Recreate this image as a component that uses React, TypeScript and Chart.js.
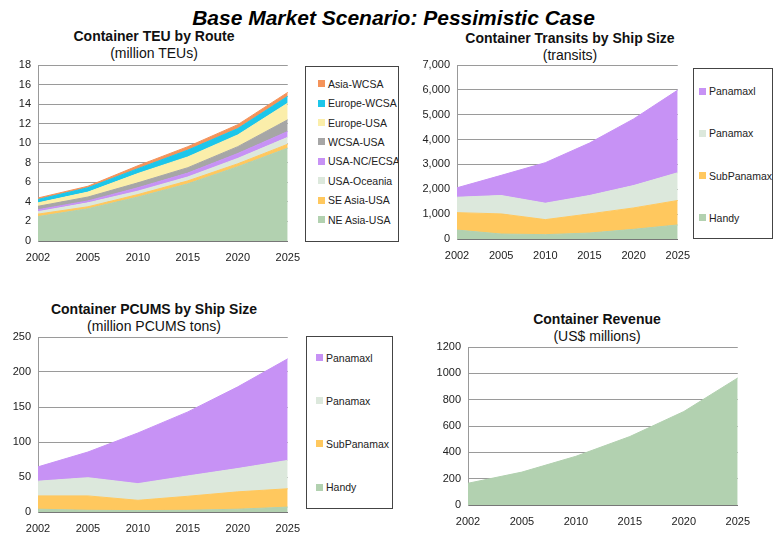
import React, { useEffect, useRef } from "react";
import { Chart, registerables } from "chart.js";
Chart.register(...registerables);

const FONT = "'Liberation Sans', Arial, sans-serif";

const YEARS = ["2002", "2005", "2010", "2015", "2020", "2025"];

// Container TEU by Route (million TEUs) - stacked layers, bottom to top
const teuNEAsiaUSA = [2.5, 3.3, 4.5, 5.85, 7.6, 9.5];
const teuSEAsiaUSA = [0.25, 0.2, 0.25, 0.3, 0.3, 0.4];
const teuUSAOceania = [0.25, 0.4, 0.35, 0.4, 0.55, 0.7];
const teuUSANCECSA = [0.2, 0.2, 0.35, 0.4, 0.5, 0.6];
const teuWCSAUSA = [0.35, 0.4, 0.5, 0.55, 0.7, 1.2];
const teuEuropeUSA = [0.35, 0.5, 0.95, 1.1, 1.2, 1.7];
const teuEuropeWCSA = [0.35, 0.45, 0.5, 0.7, 0.65, 0.7];
const teuAsiaWCSA = [0.15, 0.15, 0.3, 0.35, 0.4, 0.4];

// Container Transits by Ship Size (transits)
const trHandy = [360, 200, 175, 240, 390, 565];
const trSubPanamax = [700, 810, 605, 770, 860, 985];
const trPanamax = [620, 740, 660, 740, 900, 1115];
const trPanamaxl = [380, 810, 1630, 2110, 2680, 3325];

// Container PCUMS by Ship Size (million PCUMS tons)
const pcHandy = [4, 2.5, 2, 2.5, 4, 7];
const pcSubPanamax = [19, 20.5, 14.7, 20, 24.8, 26.2];
const pcPanamax = [21, 26, 23.8, 29, 33.3, 40.5];
const pcPanamaxl = [20.5, 36.7, 72.4, 91.5, 116.7, 145.2];

// Container Revenue (US$ millions)
const revenue = [165, 250, 370, 520, 710, 965];

const C_GREEN = "#b2d1b0";
const C_ORANGE = "#ffc85e";
const C_LIGHT = "#dce8dc";
const C_PURPLE = "#c792f5";
const C_GRAY = "#a6a6a6";
const C_YELLOW = "#fbeeaa";
const C_CYAN = "#1cc6ea";
const C_SALMON = "#f4935a";

type Series = { label: string; data: number[]; color: string };

const teuSeries: Series[] = [
  { label: "NE Asia-USA", data: teuNEAsiaUSA, color: C_GREEN },
  { label: "SE Asia-USA", data: teuSEAsiaUSA, color: C_ORANGE },
  { label: "USA-Oceania", data: teuUSAOceania, color: C_LIGHT },
  { label: "USA-NC/ECSA", data: teuUSANCECSA, color: C_PURPLE },
  { label: "WCSA-USA", data: teuWCSAUSA, color: C_GRAY },
  { label: "Europe-USA", data: teuEuropeUSA, color: C_YELLOW },
  { label: "Europe-WCSA", data: teuEuropeWCSA, color: C_CYAN },
  { label: "Asia-WCSA", data: teuAsiaWCSA, color: C_SALMON },
];

const transitSeries: Series[] = [
  { label: "Handy", data: trHandy, color: C_GREEN },
  { label: "SubPanamax", data: trSubPanamax, color: C_ORANGE },
  { label: "Panamax", data: trPanamax, color: C_LIGHT },
  { label: "Panamaxl", data: trPanamaxl, color: C_PURPLE },
];

const pcumsSeries: Series[] = [
  { label: "Handy", data: pcHandy, color: C_GREEN },
  { label: "SubPanamax", data: pcSubPanamax, color: C_ORANGE },
  { label: "Panamax", data: pcPanamax, color: C_LIGHT },
  { label: "Panamaxl", data: pcPanamaxl, color: C_PURPLE },
];

const revenueSeries: Series[] = [
  { label: "Revenue", data: revenue, color: C_GREEN },
];

type PanelProps = {
  left: number;
  top: number;
  width: number;
  height: number;
  padTop: number;
  padR: number;
  yWidth: number;
  xHeight: number;
  yMax: number;
  yStep: number;
  comma: boolean;
  series: Series[];
};

function Panel(p: PanelProps) {
  const ref = useRef<HTMLCanvasElement | null>(null);
  useEffect(() => {
    if (!ref.current) return;
    const chart = new Chart(ref.current, {
      type: "line",
      data: {
        labels: YEARS,
        datasets: p.series.map((s, i) => ({
          label: s.label,
          data: s.data,
          backgroundColor: s.color,
          borderColor: s.color,
          borderWidth: 1,
          pointRadius: 0,
          tension: 0,
          fill: i === 0 ? "origin" : "-1",
        })),
      },
      options: {
        responsive: false,
        animation: false,
        devicePixelRatio: 1,
        layout: { padding: { left: 0, right: p.padR, top: p.padTop, bottom: 0 } },
        plugins: {
          legend: { display: false },
          tooltip: { enabled: false },
          title: { display: false },
        },
        scales: {
          x: {
            type: "category",
            offset: false,
            grid: { display: false, drawTicks: false },
            border: { display: true, color: "#777", width: 1 },
            ticks: {
              color: "#222",
              font: { family: FONT, size: 11 },
              padding: 10,
              maxRotation: 0,
              autoSkip: false,
            },
            afterFit: (s: any) => {
              s.height = p.xHeight;
            },
          },
          y: {
            stacked: true,
            min: 0,
            max: p.yMax,
            grid: { color: "#9a9a9a", drawTicks: false, lineWidth: 1 },
            border: { display: true, color: "#999", width: 1 },
            ticks: {
              stepSize: p.yStep,
              color: "#222",
              font: { family: FONT, size: 11 },
              padding: 7,
              callback: (v: any) =>
                p.comma ? Number(v).toLocaleString("en-US") : String(v),
            },
            afterFit: (s: any) => {
              s.width = p.yWidth;
            },
          },
        },
      } as any,
    });
    return () => chart.destroy();
  }, []);
  return (
    <canvas
      ref={ref}
      width={p.width}
      height={p.height}
      style={{
        position: "absolute",
        left: p.left,
        top: p.top,
        width: p.width,
        height: p.height,
      }}
    />
  );
}

type TitleProps = { cx: number; cy: number; text: string; bold: boolean };

function TitleText(t: TitleProps) {
  return (
    <div
      style={{
        position: "absolute",
        left: t.cx - 160,
        top: t.cy - 8.5,
        width: 320,
        height: 17,
        lineHeight: "17px",
        textAlign: "center",
        fontFamily: FONT,
        fontSize: 14,
        fontWeight: t.bold ? "bold" : "normal",
        color: "#111",
        whiteSpace: "nowrap",
      }}
    >
      {t.text}
    </div>
  );
}

type LegendProps = {
  left: number;
  top: number;
  width: number;
  height: number;
  firstY: number;
  step: number;
  markerX: number;
  series: Series[];
};

function Legend(l: LegendProps) {
  const items = [...l.series].reverse();
  return (
    <div
      style={{
        position: "absolute",
        left: l.left,
        top: l.top,
        width: l.width,
        height: l.height,
        border: "1px solid #444",
        boxSizing: "border-box",
        overflow: "hidden",
        background: "#fff",
      }}
    >
      {items.map((s, i) => (
        <div
          key={s.label}
          style={{
            position: "absolute",
            left: l.markerX - l.left,
            top: l.firstY - l.top - 7 + i * l.step,
            height: 14,
            display: "flex",
            alignItems: "center",
            whiteSpace: "nowrap",
            fontFamily: FONT,
            fontSize: 10.5,
            color: "#222",
          }}
        >
          <span
            style={{
              display: "inline-block",
              width: 7,
              height: 7,
              background: s.color,
              marginRight: 3,
            }}
          />
          <span>{s.label}</span>
        </div>
      ))}
    </div>
  );
}

export default function App() {
  return (
    <div
      style={{
        position: "fixed",
        left: 0,
        top: 0,
        width: 776,
        height: 552,
        background: "#fff",
        overflow: "hidden",
      }}
    >
      <div
        style={{
          position: "absolute",
          left: 0,
          top: 7,
          width: 787,
          textAlign: "center",
          fontFamily: FONT,
          fontSize: 21,
          lineHeight: "21px",
          fontWeight: "bold",
          fontStyle: "italic",
          color: "#000",
          whiteSpace: "nowrap",
        }}
      >
        Base Market Scenario: Pessimistic Case
      </div>

      <TitleText cx={154} cy={36.5} text="Container TEU by Route" bold={true} />
      <TitleText cx={154} cy={53} text="(million TEUs)" bold={false} />
      <TitleText cx={570} cy={38.3} text="Container Transits by Ship Size" bold={true} />
      <TitleText cx={570} cy={55} text="(transits)" bold={false} />
      <TitleText cx={154} cy={309.3} text="Container PCUMS by Ship Size" bold={true} />
      <TitleText cx={154} cy={326} text="(million PCUMS tons)" bold={false} />
      <TitleText cx={597} cy={319.3} text="Container Revenue" bold={true} />
      <TitleText cx={597} cy={336} text="(US$ millions)" bold={false} />

      <Panel
        left={0}
        top={50}
        width={310}
        height={228}
        padTop={15}
        padR={20}
        yWidth={38}
        xHeight={37}
        yMax={18}
        yStep={2}
        comma={false}
        series={teuSeries}
      />
      <Panel
        left={390}
        top={50}
        width={310}
        height={230}
        padTop={15}
        padR={17}
        yWidth={67}
        xHeight={41}
        yMax={7000}
        yStep={1000}
        comma={true}
        series={transitSeries}
      />
      <Panel
        left={0}
        top={322}
        width={310}
        height={219}
        padTop={15}
        padR={20}
        yWidth={38}
        xHeight={29}
        yMax={250}
        yStep={50}
        comma={false}
        series={pcumsSeries}
      />
      <Panel
        left={390}
        top={332}
        width={370}
        height={209}
        padTop={15}
        padR={21}
        yWidth={78}
        xHeight={36}
        yMax={1200}
        yStep={200}
        comma={false}
        series={revenueSeries}
      />
      <Legend
        left={305}
        top={66}
        width={94}
        height={176}
        firstY={82.7}
        step={19.4}
        markerX={317}
        series={teuSeries}
      />
      <Legend
        left={693}
        top={68}
        width={80}
        height={171}
        firstY={90}
        step={42.3}
        markerX={698}
        series={transitSeries}
      />
      <Legend
        left={306}
        top={336}
        width={87}
        height={173}
        firstY={356.7}
        step={43.1}
        markerX={315}
        series={pcumsSeries}
      />
    </div>
  );
}
